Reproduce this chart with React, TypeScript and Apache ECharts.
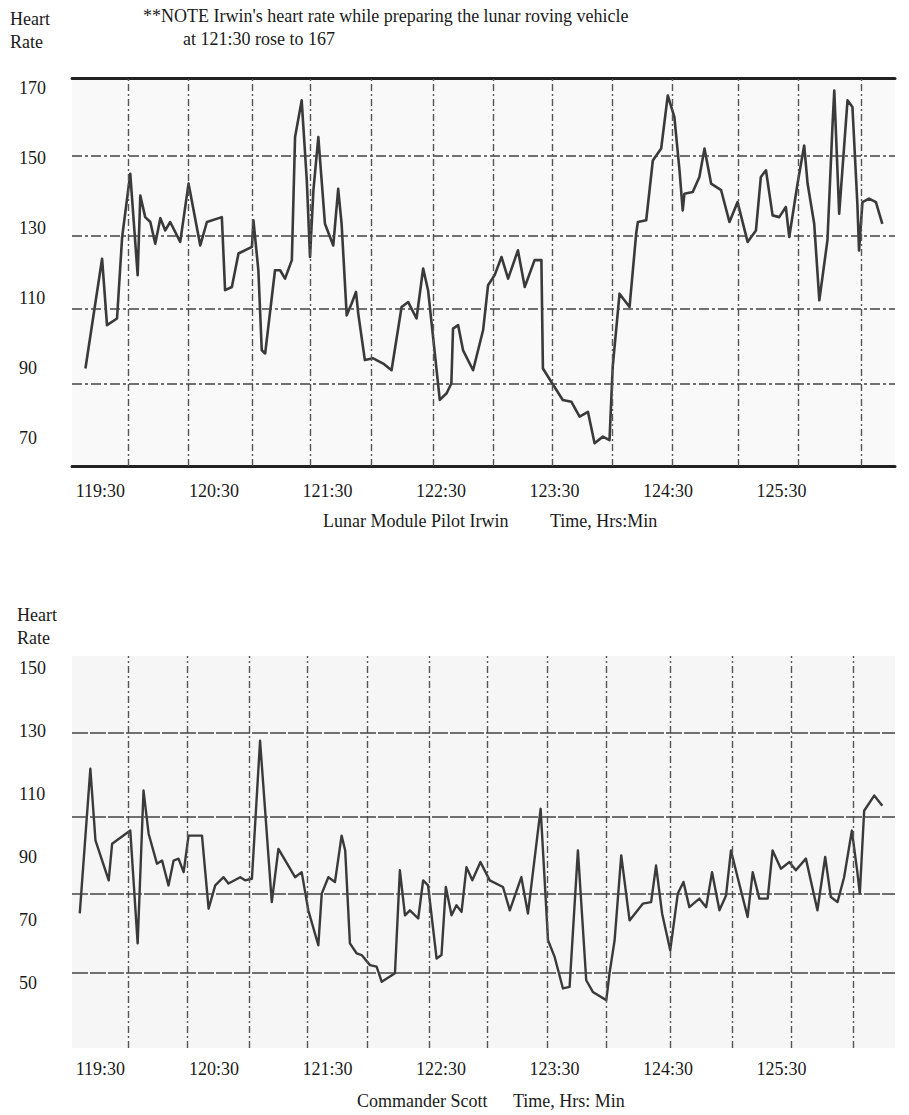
import React, { useEffect, useRef } from 'react';
import * as echarts from 'echarts';

// Time is in minutes after 119:00 (so 30 = 119:30)
const xTickMinutes = [30, 90, 150, 210, 270, 330, 390];
const xTickLabels = ['119:30', '120:30', '121:30', '122:30', '123:30', '124:30', '125:30'];

const irwinTicks = [70, 90, 110, 130, 150, 170];
const scottTicks = [50, 70, 90, 110, 130, 150];

const irwinTime = [22.1, 30.9, 33.5, 38.8, 41.5, 45.8, 49.7, 51.1, 53.7, 56.4, 59.0, 61.7, 64.3, 66.9, 72.2, 76.6, 82.8, 86.3, 94.2, 95.9, 99.5, 103.0, 110.1, 110.9, 113.5, 115.3, 117.1, 122.3, 125.0, 127.6, 131.2, 132.9, 136.4, 139.1, 140.8, 142.6, 145.2, 148.7, 153.1, 155.7, 157.5, 160.2, 162.8, 165.1, 166.3, 169.8, 174.2, 179.5, 183.9, 189.2, 192.7, 197.1, 200.6, 203.2, 209.4, 213.0, 215.5, 216.4, 219.1, 221.7, 227.0, 232.3, 234.9, 238.4, 242.0, 245.5, 250.7, 254.3, 259.5, 263.1, 263.9, 268.3, 274.4, 278.9, 283.3, 287.7, 291.2, 295.6, 299.1, 300.8, 304.4, 309.7, 313.2, 314.1, 318.5, 322.0, 326.4, 329.9, 333.4, 336.1, 337.8, 338.7, 343.1, 346.6, 349.3, 352.8, 358.1, 362.5, 366.8, 372.1, 376.5, 379.1, 381.8, 385.3, 388.8, 392.3, 394.1, 398.5, 402.0, 403.8, 407.3, 410.0, 414.3, 417.0, 417.9, 420.5, 424.9, 427.5, 430.1, 431.0, 432.8, 436.3, 439.9, 443.3];
const irwinHR = [89.9, 121.3, 102.3, 104.2, 127.5, 145.6, 116.6, 139.4, 133.2, 131.8, 125.6, 132.9, 129.4, 131.8, 126.1, 142.8, 125.1, 131.8, 133.2, 112.3, 113.2, 122.8, 124.7, 132.3, 118.0, 95.1, 94.2, 118.0, 118.0, 115.6, 120.9, 156.1, 166.6, 143.7, 121.8, 140.9, 156.1, 131.3, 125.1, 141.3, 131.3, 105.1, 108.5, 111.8, 105.6, 92.3, 92.8, 91.3, 89.4, 107.5, 108.9, 104.2, 118.5, 112.3, 80.9, 82.8, 85.6, 101.3, 102.3, 95.1, 89.4, 100.9, 113.7, 116.6, 121.8, 115.6, 123.7, 113.2, 120.9, 120.9, 89.9, 86.1, 80.9, 80.4, 76.1, 77.5, 68.5, 70.4, 69.4, 90.4, 111.3, 107.5, 128.5, 131.8, 132.3, 149.4, 152.8, 168.0, 161.8, 146.6, 135.1, 139.9, 140.4, 144.7, 152.8, 142.8, 140.9, 131.8, 137.5, 126.1, 129.4, 144.7, 146.6, 133.7, 133.2, 136.1, 127.5, 142.8, 153.7, 142.8, 131.3, 109.4, 126.6, 159.9, 169.4, 134.2, 166.6, 164.7, 137.1, 123.7, 137.5, 138.5, 137.5, 131.3];

const scottTime = [19.1, 24.7, 27.4, 34.4, 36.2, 45.8, 49.7, 52.8, 55.5, 59.9, 62.6, 66.0, 68.7, 71.3, 74.0, 76.6, 83.7, 87.2, 90.7, 95.1, 97.7, 103.9, 106.5, 110.1, 114.4, 120.6, 124.1, 132.9, 136.4, 139.9, 145.2, 147.0, 150.5, 154.0, 157.5, 159.4, 161.9, 165.5, 168.1, 172.5, 176.0, 178.7, 185.7, 188.3, 191.0, 193.6, 198.0, 200.6, 203.2, 207.7, 210.3, 212.6, 215.6, 218.2, 220.9, 223.5, 226.6, 230.9, 235.8, 242.8, 246.4, 252.5, 256.0, 262.7, 266.6, 270.1, 274.5, 278.0, 282.4, 286.8, 290.3, 297.4, 299.1, 301.8, 305.3, 309.7, 316.7, 321.1, 323.7, 326.9, 331.2, 335.2, 338.2, 341.3, 346.6, 350.2, 353.3, 357.2, 360.7, 363.3, 366.8, 372.1, 374.8, 378.3, 382.7, 385.3, 389.7, 394.1, 397.6, 402.9, 409.0, 413.1, 416.1, 419.6, 423.1, 427.2, 430.1, 431.4, 433.7, 439.0, 443.3];
const scottHR = [72.1, 118.0, 95.3, 82.6, 94.2, 98.4, 62.6, 111.1, 97.4, 87.9, 88.9, 81.0, 88.9, 89.5, 85.2, 96.8, 96.8, 73.6, 81.0, 83.6, 81.6, 83.6, 82.6, 83.1, 126.9, 75.7, 92.6, 83.6, 85.2, 73.1, 62.0, 78.4, 83.6, 82.1, 96.8, 92.1, 62.6, 59.4, 58.9, 55.7, 55.2, 50.4, 53.1, 85.8, 71.5, 73.1, 70.5, 82.6, 81.0, 57.8, 58.9, 80.5, 71.5, 74.7, 72.6, 86.8, 82.6, 88.4, 82.6, 80.5, 73.1, 83.6, 72.1, 105.3, 63.6, 58.3, 48.3, 48.8, 92.1, 50.9, 47.2, 44.6, 53.1, 63.6, 90.5, 69.9, 75.2, 75.7, 87.3, 72.1, 60.4, 78.4, 82.1, 74.1, 76.8, 74.1, 85.2, 73.1, 77.8, 92.1, 83.6, 71.0, 85.2, 76.8, 76.8, 92.1, 86.3, 88.4, 85.8, 89.5, 73.1, 90.0, 77.3, 75.7, 83.6, 98.4, 85.2, 78.4, 104.7, 109.5, 106.3];

// Graph-paper rulings of the original recorder strips
const irwinPaperX = [44.8, 76.4, 110.2, 140.8, 173, 206.2, 237.4, 269, 300.7, 332.4, 367.2, 398.9, 432.1];
const irwinPaperY = [150.9, 128, 106.9, 85.4];
const scottPaperX = [44.8, 75.9, 108.6, 139.2, 170.9, 203.6, 234.7, 266.4, 297.5, 331.3, 364.0, 395.2, 427.9];
const scottPaperY = [129.6, 102.9, 78.5, 53.3];

const FONT = '"Liberation Serif", "Times New Roman", serif';
const TXT = '#1a1a1a';

const pairs = (ts: number[], vs: number[]) => ts.slice(0, Math.min(ts.length, vs.length)).map((t, i) => [t, vs[i]]);

const xLabelFormatter = (v: number) => {
  const i = xTickMinutes.indexOf(Math.round(v));
  return i >= 0 ? xTickLabels[i] : '';
};

function buildOption() {
  const baseX = (grid: number, margin: number, showLine: boolean) => ({
    gridIndex: grid,
    type: 'value',
    min: 15,
    max: 450,
    axisLine: { show: showLine, onZero: false, lineStyle: { color: '#222', width: 3 } },
    axisTick: { show: false },
    splitLine: { show: false },
    axisLabel: {
      customValues: xTickMinutes,
      formatter: xLabelFormatter,
      fontFamily: FONT,
      fontSize: 18,
      color: TXT,
      margin,
    },
  });
  const baseY = (grid: number, min: number, max: number, ticks: number[]) => ({
    gridIndex: grid,
    type: 'value',
    min,
    max,
    axisLine: { show: false },
    axisTick: { show: false },
    splitLine: { show: false },
    axisLabel: {
      customValues: ticks,
      align: 'left',
      margin: 53,
      fontFamily: FONT,
      fontSize: 18,
      color: TXT,
    },
  });
  const paper = (idx: number, xs: number[], ys: number[], data: number[][], hType: any) => ({
    type: 'line',
    xAxisIndex: idx,
    yAxisIndex: idx,
    data,
    showSymbol: false,
    silent: true,
    z: 1,
    lineStyle: { opacity: 0 },
    markLine: {
      silent: true,
      symbol: ['none', 'none'],
      label: { show: false },
      emphasis: { disabled: true },
      data: [
        ...xs.map((x) => ({ xAxis: x, lineStyle: { color: '#555', width: 1.4, type: [7, 3, 2, 3] } })),
        ...ys.map((y) => ({ yAxis: y, lineStyle: { color: '#444', width: 1.6, type: hType } })),
      ],
    },
  });
  const irwin = pairs(irwinTime, irwinHR);
  const scott = pairs(scottTime, scottHR);
  const text = (left: number, top: number, t: string, extra: any = {}) => ({
    type: 'text',
    left,
    top,
    style: { text: t, font: `18px ${FONT}`, fill: TXT, ...extra },
  });
  return {
    animation: false,
    backgroundColor: '#ffffff',
    grid: [
      { left: 72, top: 78, width: 823, height: 388, show: true, backgroundColor: '#f9f9f9', borderWidth: 0 },
      { left: 72, top: 656, width: 823, height: 392, show: true, backgroundColor: '#f6f6f6', borderWidth: 0 },
    ],
    xAxis: [
      baseX(0, 16, true),
      baseX(1, 12, false),
      { ...baseX(0, 16, true), position: 'top', axisLabel: { show: false } },
    ],
    yAxis: [baseY(0, 62, 173, irwinTicks), baseY(1, 29.4, 153.8, scottTicks)],
    series: [
      paper(0, irwinPaperX, irwinPaperY, irwin, [10, 3, 3, 3]),
      paper(1, scottPaperX, scottPaperY, scott, [16, 2]),
      {
        name: 'Irwin',
        type: 'line',
        xAxisIndex: 0,
        yAxisIndex: 0,
        data: irwin,
        showSymbol: false,
        z: 3,
        lineStyle: { color: '#3a3a3a', width: 2.6, join: 'round' },
      },
      {
        name: 'Scott',
        type: 'line',
        xAxisIndex: 1,
        yAxisIndex: 1,
        data: scott,
        showSymbol: false,
        z: 3,
        lineStyle: { color: '#3a3a3a', width: 2.4, join: 'round' },
      },
    ],
    graphic: [
      text(10, 7, 'Heart\nRate', { lineHeight: 23 }),
      text(143, 7, "**NOTE Irwin's heart rate while preparing the lunar roving vehicle"),
      text(183, 30, 'at 121:30 rose to 167'),
      text(323, 512, 'Lunar Module Pilot Irwin'),
      text(550, 512, 'Time, Hrs:Min'),
      text(17, 603, 'Heart\nRate', { lineHeight: 23 }),
      text(357, 1092, 'Commander Scott'),
      text(513, 1092, 'Time, Hrs: Min'),
    ],
  };
}

export default function App() {
  const ref = useRef<HTMLDivElement>(null);
  useEffect(() => {
    document.body.style.margin = '0';
    const chart = echarts.init(ref.current!, null, { renderer: 'svg' });
    chart.setOption(buildOption() as any);
    return () => chart.dispose();
  }, []);
  return <div ref={ref} style={{ width: 909, height: 1115, background: '#fff' }} />;
}
